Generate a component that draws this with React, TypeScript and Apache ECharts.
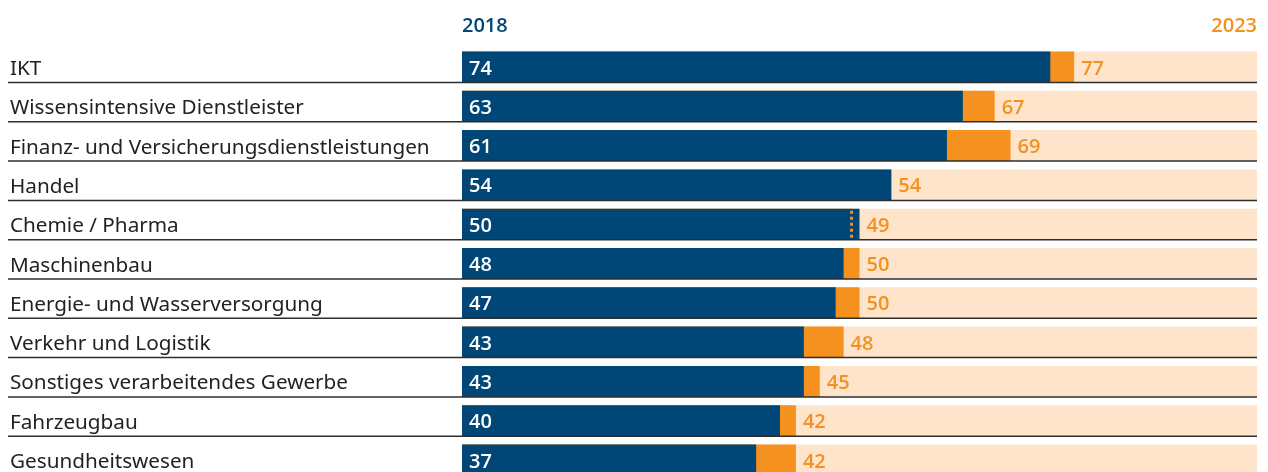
import React, { useEffect, useRef } from "react";
import * as echarts from "echarts";

const categories = [
  "IKT",
  "Wissensintensive Dienstleister",
  "Finanz- und Versicherungsdienstleistungen",
  "Handel",
  "Chemie / Pharma",
  "Maschinenbau",
  "Energie- und Wasserversorgung",
  "Verkehr und Logistik",
  "Sonstiges verarbeitendes Gewerbe",
  "Fahrzeugbau",
  "Gesundheitswesen",
];
const values2018 = [74, 63, 61, 54, 50, 48, 47, 43, 43, 40, 37];
const values2023 = [77, 67, 69, 54, 49, 50, 50, 48, 45, 42, 42];
const yearLabels = ["2018", "2023"];

const BLUE = "#004676";
const ORANGE = "#F5911F";
const PEACH = "#FDE4CB";
const FONT = "'Noto Sans', sans-serif";
const NUM_FONT = "'Open Sans', 'Noto Sans', sans-serif";
const NUM_WEIGHT = 600;
const BAR_W = 31;

export default function App() {
  const ref = useRef<HTMLDivElement>(null);
  useEffect(() => {
    if (!ref.current) return;
    const chart = echarts.init(ref.current, undefined, { renderer: "svg" });
    const maxVals = values2018.map((v, i) => Math.max(v, values2023[i]));
    const decreases = values2023
      .map((v, i) => [v, i, values2018[i]])
      .filter((d) => d[0] < d[2])
      .map((d) => [d[0], d[1]]);
    const dividerData = categories.map((_, i) => [100, i]);

    chart.setOption({
      animation: false,
      grid: { left: 462, top: 47.35, width: 795, height: 432.3 },
      xAxis: { type: "value", min: 0, max: 100, show: false },
      yAxis: {
        type: "category",
        data: categories,
        inverse: true,
        axisLine: { show: false },
        axisTick: { show: false },
        splitLine: { show: false },
        axisLabel: {
          align: "left",
          margin: 452,
          fontSize: 20.7,
          color: "#222",
          fontFamily: FONT,
        },
      },
      graphic: [
        {
          type: "text",
          left: 462,
          top: 14,
          style: { text: yearLabels[0], fill: BLUE, fontSize: 20, fontWeight: NUM_WEIGHT, fontFamily: NUM_FONT },
        },
        {
          type: "text",
          right: 11,
          top: 14,
          style: { text: yearLabels[1], fill: ORANGE, fontSize: 20, fontWeight: NUM_WEIGHT, fontFamily: NUM_FONT },
        },
      ],
      series: [
        {
          type: "bar",
          name: yearLabels[1],
          data: values2023,
          barWidth: BAR_W,
          barGap: "-100%",
          itemStyle: { color: ORANGE },
          showBackground: true,
          backgroundStyle: { color: PEACH },
          z: 1,
        },
        {
          type: "bar",
          name: yearLabels[0],
          data: values2018,
          barWidth: BAR_W,
          barGap: "-100%",
          itemStyle: { color: BLUE },
          z: 2,
          label: {
            show: true,
            position: "insideLeft",
            distance: 7,
            color: "#fff",
            fontSize: 20,
            fontWeight: NUM_WEIGHT,
            fontFamily: NUM_FONT,
          },
        },
        {
          type: "bar",
          data: maxVals,
          barWidth: BAR_W,
          barGap: "-100%",
          itemStyle: { color: "rgba(0,0,0,0)" },
          z: 3,
          silent: true,
          label: {
            show: true,
            position: "right",
            distance: 7,
            color: ORANGE,
            fontSize: 20,
            fontWeight: NUM_WEIGHT,
            fontFamily: NUM_FONT,
            formatter: (p: any) => String(values2023[p.dataIndex]),
          },
        },
        {
          type: "custom",
          data: decreases,
          encode: { x: 0, y: 1 },
          z: 4,
          renderItem: (params: any, api: any) => {
            const pt = api.coord([api.value(0), api.value(1)]);
            return {
              type: "line",
              shape: { x1: pt[0], y1: pt[1] - BAR_W / 2 + 2, x2: pt[0], y2: pt[1] + BAR_W / 2 },
              style: { stroke: ORANGE, lineWidth: 3, lineDash: [3, 3] },
            };
          },
        },
        {
          type: "custom",
          data: dividerData,
          encode: { x: 0, y: 1 },
          z: 5,
          renderItem: (params: any, api: any) => {
            const pt = api.coord([api.value(0), api.value(1)]);
            const y = pt[1] + BAR_W / 2;
            return {
              type: "line",
              shape: { x1: 8, y1: y, x2: pt[0], y2: y },
              style: { stroke: "#2e2e2e", lineWidth: 1.5 },
            };
          },
        },
      ],
    });
    return () => chart.dispose();
  }, []);
  return (
    <div style={{ position: "fixed", left: 0, top: 0, width: 1268, height: 472, overflow: "hidden" }}>
      <div ref={ref} style={{ width: 1268, height: 500 }} />
    </div>
  );
}
